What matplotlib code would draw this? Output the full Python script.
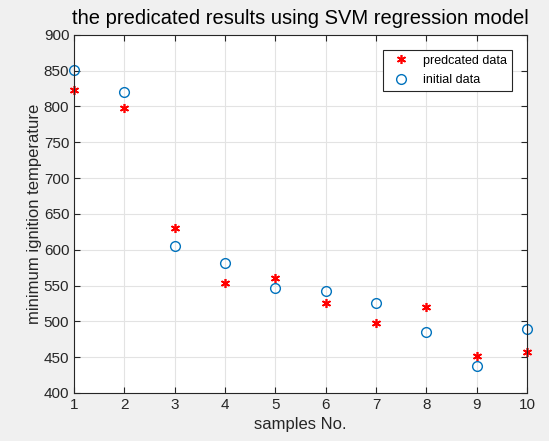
import numpy as np
import matplotlib.pyplot as plt

plt.rcParams['font.family'] = ['Liberation Sans', 'DejaVu Sans']

samples = np.arange(1, 11)
predicated = [823, 798, 630, 553, 560, 526, 498, 520, 451, 457]
initial = [851, 820, 605, 581, 546, 543, 525, 485, 437, 489]

fig = plt.figure(figsize=(5.49, 4.41), dpi=100, facecolor='#f0f0f0')
ax = fig.add_axes([0.135, 0.109, 0.825, 0.812])

ax.plot(samples, predicated, linestyle='none', marker=(6, 2, 0), color='red',
        markersize=6.5, markeredgewidth=1.2, label='predcated data', clip_on=False)
ax.plot(samples, initial, linestyle='none', marker='o', markerfacecolor='none',
        markeredgecolor='#0072BD', markersize=7, markeredgewidth=1.0,
        label='initial data', clip_on=False)

ax.set_xlim(1, 10)
ax.set_ylim(400, 900)
ax.set_xticks(range(1, 11))
ax.set_yticks(range(400, 901, 50))
ax.grid(True, color='#e3e3e3', linewidth=0.8)
ax.set_axisbelow(True)
ax.tick_params(direction='in', top=True, right=True, labelsize=11,
               colors='#262626', length=4)
for s in ax.spines.values():
    s.set_color('#262626')
    s.set_linewidth(0.8)

ax.set_title('the predicated results using SVM regression model', fontsize=14.5,
             color='#000000', pad=8)
ax.set_xlabel('samples No.', fontsize=12, color='#262626')
ax.set_ylabel('minimum ignition temperature', fontsize=12, color='#262626',
              labelpad=1)

leg = ax.legend(loc='upper right', fontsize=9, fancybox=False, framealpha=1,
                edgecolor='#262626', borderaxespad=1.2, handletextpad=0.8,
                labelspacing=0.6)
leg.get_frame().set_linewidth(0.8)

fig.savefig('out.png', dpi=100, facecolor=fig.get_facecolor())
